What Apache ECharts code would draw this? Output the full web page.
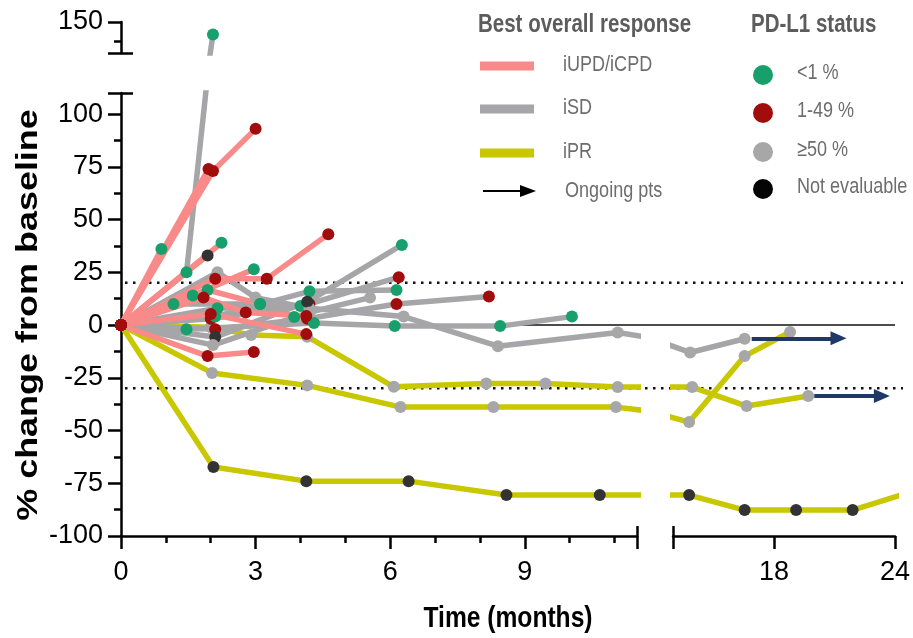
<!DOCTYPE html>
<html>
<head>
<meta charset="utf-8">
<script src="https://cdn.jsdelivr.net/npm/echarts@6.0.0/dist/echarts.min.js"></script>
<style>
  html, body { margin: 0; padding: 0; background: #fff; }
  #chart { width: 913px; height: 638px; }
</style>
</head>
<body>
<div id="chart"></div>
<script>
// patient tracks: response, PD-L1 status, months, % change
const patientResponse = [
    'iPR', 'iPR', 'iPR',
    'iSD', 'iSD', 'iSD', 'iSD', 'iSD', 'iSD', 'iSD', 'iSD', 'iSD', 'iSD',
    'iUPD/iCPD', 'iUPD/iCPD', 'iUPD/iCPD', 'iUPD/iCPD', 'iUPD/iCPD', 'iUPD/iCPD',
    'iUPD/iCPD', 'iUPD/iCPD', 'iUPD/iCPD', 'iUPD/iCPD', 'iUPD/iCPD'
];
const patientStatus = [
    'Not evaluable', '≥50 %', '≥50 %',
    '<1 %', '<1 %', '1-49 %', '<1 %', '1-49 %', '<1 %', '≥50 %', 'Not evaluable', '≥50 %', '<1 %',
    'Not evaluable', '<1 %', '<1 %', '<1 %', '<1 %', '1-49 %',
    '1-49 %', '1-49 %', '1-49 %', '1-49 %', '1-49 %'
];
const patientMonths = [
    [0, 2.06, 4.13, 6.41, 8.59, 10.67, 13.8, 16.55, 19.1, 21.9, 24.6],
    [0, 2.03, 4.15, 6.23, 8.3, 11.03, 13.8, 16.55, 18.8],
    [0, 2.0, 2.9, 4.15, 6.08, 8.14, 9.46, 11.07, 13.95, 16.65, 19.7],
    [0, 1.46, 2.05],
    [0, 2.15, 4.0, 6.26],
    [0, 2.0, 4.2, 6.19],
    [0, 2.1, 4.2, 6.14],
    [0, 2.1, 4.15, 6.14, 8.2],
    [0, 1.46, 4.3, 6.1, 8.45, 10.05],
    [0, 2.15, 3.0, 4.2, 6.3, 8.4, 11.07, 13.85, 16.55],
    [0, 2.1, 4.15],
    [0, 2.05, 4.2, 5.55],
    [0, 1.17, 3.1, 3.86],
    [0, 1.93],
    [0, 0.9],
    [0, 2.24],
    [0, 1.6, 2.96],
    [0, 1.93, 3.1],
    [0, 1.95],
    [0, 2.05, 3.0],
    [0, 2.1, 3.25, 4.62],
    [0, 1.84, 2.78, 4.13],
    [0, 2.0, 4.13],
    [0, 1.93, 2.96]
];
const patientChange = [
    [0, -67.3, -74, -74, -80.6, -80.6, -80.6, -87.7, -87.7, -87.7, -79.7],
    [0, -22.7, -28.6, -38.9, -38.9, -38.9, -46, -14.7, -3.3],
    [0, -1, -4.7, -5.5, -29.3, -27.7, -27.7, -29.4, -29.4, -38.4, -33.6],
    [0, 25, 142],
    [0, 8, 9, 38],
    [0, 3, 10, 22.7],
    [0, 4, 16, 16.6],
    [0, -2, 3, 10, 13.5],
    [0, -2, 1, -0.5, -0.5, 4],
    [0, 25, 13, 8, 4, -10, -3.5, -13, -6.5],
    [0, -5.7, 11],
    [0, -9.5, 6, 13],
    [0, 10, 10, 3.8],
    [0, 33],
    [0, 36],
    [0, 39],
    [0, 14, 26.5],
    [0, 16.6, 10],
    [0, 74],
    [0, 73, 93],
    [0, 22, 22, 43],
    [0, 13, 6, 4.3],
    [0, 5.2, -4.3],
    [0, -14.7, -12.8]
];

// ongoing patients (arrows)
const ongoingStart = [16.9, 20.0];
const ongoingEnd = [21.2, 23.35];
const ongoingChange = [-6.3, -33.6];

// reference lines
const thresholdLines = [20, -30];
const zeroLineFrom = 8.9;

// ticks
const leftMonthLabels = [0, 3, 6, 9];
const leftMonthTicks = [0, 3, 6, 9, 11.5];
const leftMonthMinor = [1, 2, 4, 5, 7, 8, 10, 11];
const rightMonthLabels = [18, 24];
const rightMonthTicks = [13, 18, 24];
const changeLabels = [-100, -75, -50, -25, 0, 25, 50, 75, 100];
const changeTicks = [-100, -75, -50, -25, 0, 25, 50, 75, 100, 110];
const changeMinor = [-87.5, -62.5, -37.5, -12.5, 12.5, 37.5, 62.5, 87.5];
const upperLabels = [150];
const upperTicks = [130, 150];
const upperMinor = [137.5];

const responseNames = ['iUPD/iCPD', 'iSD', 'iPR'];
const responseColors = ['#f98a8a', '#a6a6a9', '#c8c700'];
const statusNames = ['<1 %', '1-49 %', '≥50 %', 'Not evaluable'];
const statusColors = ['#17a06c', '#a10c0c', '#a7a7a7', '#333333'];
const statusLegendColors = ['#17a06c', '#a10c0c', '#a7a7a7', '#050505'];

const sans = '"Liberation Sans", Arial, sans-serif';
const black = { color: '#000', width: 2.5 };
const squeeze = 0.82; // figure text is condensed

function axis(gridIndex, min, max, extra) {
    return Object.assign({
        type: 'value', gridIndex: gridIndex, min: min, max: max,
        splitLine: { show: false },
        axisLine: { show: false, onZero: false, lineStyle: black },
        axisTick: { show: false },
        axisLabel: { show: false }
    }, extra);
}
function ticks(values, length, inside) {
    return { show: true, customValues: values, length: length, inside: !!inside, lineStyle: black };
}
function labels(values, margin) {
    return { show: true, customValues: values, margin: margin, fontSize: 27, fontFamily: sans, color: '#000' };
}

const xAxis = [
    axis(0, 0, 11.5, { position: 'bottom', axisLine: { show: true, onZero: false, lineStyle: black },
        axisTick: ticks(leftMonthTicks, 13), axisLabel: labels(leftMonthLabels, 23) }),
    axis(0, 0, 11.5, { position: 'bottom', axisTick: ticks(leftMonthMinor, 7) }),
    axis(0, 0, 11.5, { position: 'bottom', axisTick: ticks([11.5], 10, true) }),
    axis(1, 13, 24, { position: 'bottom', axisLine: { show: true, onZero: false, lineStyle: black },
        axisTick: ticks(rightMonthTicks, 13), axisLabel: labels(rightMonthLabels, 23) }),
    axis(1, 13, 24, { position: 'bottom', axisTick: ticks([13], 10, true) }),
    axis(2, 0, 11.5, { position: 'bottom', show: false })
];
const yAxis = [
    axis(0, -100, 110, { position: 'left', axisLine: { show: true, onZero: false, lineStyle: black },
        axisTick: ticks(changeTicks, 13), axisLabel: labels(changeLabels, 18) }),
    axis(0, -100, 110, { position: 'left', axisTick: ticks(changeMinor, 7) }),
    axis(0, -100, 110, { position: 'left', axisTick: ticks([110], 12, true) }),
    axis(1, -100, 110, { position: 'left', show: false }),
    axis(2, 130, 150, { position: 'left', axisLine: { show: true, onZero: false, lineStyle: black },
        axisTick: ticks(upperTicks, 13), axisLabel: labels(upperLabels, 18) }),
    axis(2, 130, 150, { position: 'left', axisTick: ticks(upperMinor, 7) }),
    axis(2, 130, 150, { position: 'left', axisTick: ticks([130], 12, true) })
];

const series = [];
patientMonths.forEach((months, i) => {
    const values = patientChange[i];
    const data = months.map((m, j) => [m, values[j]]);
    const base = {
        type: 'line', data: data, symbol: 'circle', symbolSize: 12, silent: true,
        lineStyle: { color: responseColors[responseNames.indexOf(patientResponse[i])], width: 5.5 },
        itemStyle: { color: statusColors[statusNames.indexOf(patientStatus[i])] }
    };
    series.push(Object.assign({ xAxisIndex: 0, yAxisIndex: 0 }, base));
    if (Math.max(...months) > 11.5) series.push(Object.assign({ xAxisIndex: 3, yAxisIndex: 3 }, base));
    if (Math.max(...values) > 110) series.push(Object.assign({ xAxisIndex: 5, yAxisIndex: 4 }, base));
});
series.push({
    type: 'line', xAxisIndex: 3, yAxisIndex: 3, data: [], silent: true,
    markLine: {
        silent: true, symbol: ['none', 'triangle'], symbolSize: [14, 16],
        label: { show: false }, emphasis: { disabled: true },
        lineStyle: { color: '#1f3866', width: 4, type: 'solid' },
        data: ongoingStart.map((s, i) => [
            { coord: [s, ongoingChange[i]] },
            { coord: [ongoingEnd[i], ongoingChange[i]] }
        ])
    }
});

const chart = echarts.init(document.getElementById('chart'));
chart.setOption({
    animation: false,
    backgroundColor: '#fff',
    grid: [
        { left: 121, top: 93, width: 516, height: 443 },
        { left: 673, top: 93, width: 222, height: 443 },
        { left: 121, top: 22, width: 516, height: 31 }
    ],
    xAxis: xAxis,
    yAxis: yAxis,
    series: series
});

// reference lines, titles and legend
const graphic = [];
const dotStart = chart.convertToPixel({ xAxisIndex: 0 }, 0) + 4;
const lineEnd = chart.convertToPixel({ xAxisIndex: 3 }, 24);
thresholdLines.forEach(v => {
    const y = chart.convertToPixel({ yAxisIndex: 0 }, v);
    graphic.push({ type: 'line', z: 3, silent: true,
        shape: { x1: dotStart, y1: y, x2: lineEnd + 8, y2: y },
        style: { stroke: '#111', lineWidth: 2.5, lineDash: [2.5, 5.5] } });
});
const y0 = chart.convertToPixel({ yAxisIndex: 0 }, 0);
graphic.push({ type: 'line', z: 1, silent: true,
    shape: { x1: chart.convertToPixel({ xAxisIndex: 0 }, zeroLineFrom), y1: y0, x2: lineEnd, y2: y0 },
    style: { stroke: '#111', lineWidth: 1.5 } });

function text(str, x, y, font, fill, align) {
    const a = align || 'left';
    return { type: 'text', x: x, y: y, scaleX: squeeze, silent: true,
        style: { text: str, font: font, fill: fill, align: a, verticalAlign: 'middle',
            textAlign: a, textVerticalAlign: 'middle' } };
}
graphic.push(text('Time (months)', 508, 619, 'bold 30px ' + sans, '#000', 'center'));
graphic.push({ type: 'text', x: 29, y: 315, rotation: Math.PI / 2, scaleX: 1.24, silent: true,
    style: { text: '% change from baseline', font: 'bold 29px ' + sans, fill: '#000',
        align: 'center', verticalAlign: 'middle', textAlign: 'center', textVerticalAlign: 'middle' } });

graphic.push(text('Best overall response', 478, 25, 'bold 25px ' + sans, '#5c5c5c'));
graphic.push(text('PD-L1 status', 751, 25, 'bold 25px ' + sans, '#5c5c5c'));
const legendRowY = [66, 109, 153, 191];
responseNames.forEach((name, i) => {
    graphic.push({ type: 'rect', silent: true, shape: { x: 480, y: legendRowY[i] - 4.5, width: 54, height: 9 },
        style: { fill: responseColors[i] } });
    graphic.push(text(name, 563, legendRowY[i] - 1, '22px ' + sans, '#6d6d6d'));
});
graphic.push({ type: 'line', silent: true, shape: { x1: 483, y1: legendRowY[3], x2: 524, y2: legendRowY[3] },
    style: { stroke: '#000', lineWidth: 2 } });
graphic.push({ type: 'polygon', silent: true,
    shape: { points: [[520, legendRowY[3] - 6], [536, legendRowY[3]], [520, legendRowY[3] + 6]] },
    style: { fill: '#000' } });
graphic.push(text('Ongoing pts', 565, legendRowY[3], '22px ' + sans, '#6d6d6d'));

const statusRowY = [75, 113, 152, 189];
statusNames.forEach((name, i) => {
    graphic.push({ type: 'circle', silent: true, shape: { cx: 763, cy: statusRowY[i], r: 10 },
        style: { fill: statusLegendColors[i] } });
    graphic.push(text(name, 797, statusRowY[i] - 2, '22px ' + sans, '#6d6d6d'));
});

chart.setOption({ graphic: graphic });
</script>
</body>
</html>
